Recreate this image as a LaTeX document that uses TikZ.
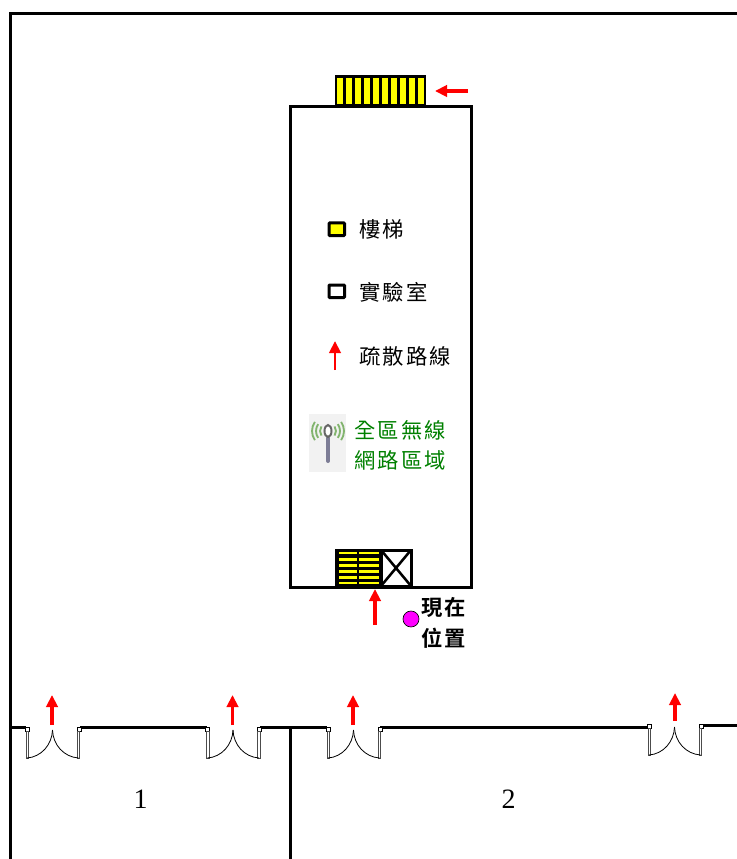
\documentclass[tikz,border=0pt]{standalone}
\usepackage{fontspec}
\setmainfont{Liberation Serif}
\newfontfamily\cjk[LetterSpace=10,BoldFont={Noto Sans CJK TC Bold}]{Noto Sans CJK TC}
\usetikzlibrary{arrows.meta}
\definecolor{stairyellow}{RGB}{255,255,0}
\definecolor{wifigreen}{RGB}{0,128,0}
\definecolor{spotmagenta}{RGB}{255,0,255}
\definecolor{arrowred}{RGB}{255,0,0}
\definecolor{antennagrey}{RGB}{125,125,150}
\definecolor{wavegreen}{RGB}{130,180,110}
\tikzset{
	wall/.style={line width=2.25pt,line cap=rect},
	redarrow/.style={-{Triangle[length=9pt,width=8.5pt]},arrowred,line width=2.7pt},
	legendtext/.style={font=\cjk\fontsize{16}{16}\selectfont,anchor=west,inner sep=0pt},
	boldtext/.style={font=\cjk\bfseries\fontsize{16}{16}\selectfont,anchor=west,inner sep=0pt},
	greentext/.style={legendtext,text=wifigreen},
	roomnum/.style={font=\fontsize{21}{21}\selectfont,inner sep=0pt}
}
\newcommand{\doorpair}[2]{% left jamb x, wall y
	\draw[line width=0.6pt,fill=white] (#1-1,#2-3) rectangle (#1+3,#2+1);
	\draw[line width=0.6pt,fill=white] (#1+51,#2-3) rectangle (#1+55,#2+1);
	\draw[line width=0.6pt,fill=white,draw=black!70] (#1,#2+1) rectangle (#1+2.5,#2+28);
	\draw[line width=0.6pt,fill=white,draw=black!70] (#1+51,#2+1) rectangle (#1+53.5,#2+28);
	\draw[line width=0.6pt] (#1+1,#2+28) .. controls (#1+15,#2+27) and (#1+26,#2+15) .. (#1+26.5,#2);
	\draw[line width=0.6pt] (#1+52.5,#2+28) .. controls (#1+38,#2+27) and (#1+27,#2+15) .. (#1+26.5,#2);
}
\begin{document}
\begin{tikzpicture}[x=0.75pt,y=-0.75pt,line join=miter]
	\useasboundingbox (0,0) rectangle (737,859);
	% outer walls
	\draw[wall] (10.5,859)--(10.5,13.5)--(737,13.5);
	\draw[wall] (290,859)--(290,727);
	\draw[wall] (11,727.5)--(24,727.5);
	\draw[wall] (81,727.5)--(205,727.5);
	\draw[wall] (261,727.5)--(325,727.5);
	\draw[wall] (381,727)--(646,727);
	\draw[wall] (703,725.5)--(737,725.5);
	% doors
	\doorpair{26}{730}
	\doorpair{206.5}{730}
	\doorpair{327}{730}
	\doorpair{648}{727}
	% building
	\draw[wall] (290,587)--(290,106.5)--(471,106.5)--(471,587);
	\draw[wall] (290,587)--(471,587);
	% top stairs
	\fill[black] (334.5,75.5) rectangle (425.5,105);
	\foreach \i in {0,...,9}
		\fill[stairyellow] (337.3+9*\i,78.3) rectangle (342.6+9*\i,104);
	\draw[redarrow] (468,91)--(435,91);
	% legend
	\draw[line width=2.25pt,fill=stairyellow,rounded corners=0.5pt] (329,223) rectangle (344.5,235.5);
	\node[legendtext] (stairlabel) at (359,229.5) {樓梯};
	\draw[line width=2.25pt,fill=white,rounded corners=0.5pt] (329,285) rectangle (344.5,297.5);
	\node[legendtext] (lablabel) at (359,292.5) {實驗室};
	\draw[redarrow,line width=2.2pt] (335,370)--(335,341);
	\node[legendtext] (routelabel) at (359,356.5) {疏散路線};
	% wifi icon
	\fill[black!5] (309,414) rectangle (346,472);
	\foreach \r in {8,12,16}{
		\draw[wavegreen,line width=1.4pt] (328,431)+(145:\r) arc (145:215:\r);
		\draw[wavegreen,line width=1.4pt] (328,431)+(-35:\r) arc (-35:35:\r);
	}
	\draw[antennagrey,line width=3pt,line cap=round] (328,438)--(328,461);
	\draw[black!60,line width=1.5pt,fill=white] (328,431) ellipse (3.5 and 6);
	\node[greentext] (wifilabela) at (354,430.5) {全區無線};
	\node[greentext] (wifilabelb) at (354,460.5) {網路區域};
	% bottom stairs and lift
	\fill (335,549) rectangle (381,587);
	\foreach \y in {553,559.5,565.5,571.5,577.5,583}{
		\fill[stairyellow] (338.5,\y-1.3) rectangle (356.5,\y+1.3);
		\fill[stairyellow] (359,\y-1.3) rectangle (379,\y+1.3);
	}
	\draw[line width=2.25pt] (381,550)rectangle(411,586);
	\draw[line width=1.9pt] (381,550)--(411,586) (411,550)--(381,586);
	\draw[redarrow] (375,625)--(375,589);
	% current position
	\draw[line width=0.5pt,fill=spotmagenta] (411,619) circle (8);
	\node[boldtext] (nowa) at (421,607) {現在};
	\node[boldtext] (nowb) at (421,638.5) {位置};
	% door arrows
	\draw[redarrow] (52,725)--(52,695);
	\draw[redarrow] (232.5,725)--(232.5,695);
	\draw[redarrow] (353,725)--(353,695);
	\draw[redarrow] (675,721)--(675,693);
	% room numbers
	\node[roomnum] (rooma) at (140.5,799) {1};
	\node[roomnum] (roomb) at (508.5,799) {2};
\end{tikzpicture}
\end{document}
